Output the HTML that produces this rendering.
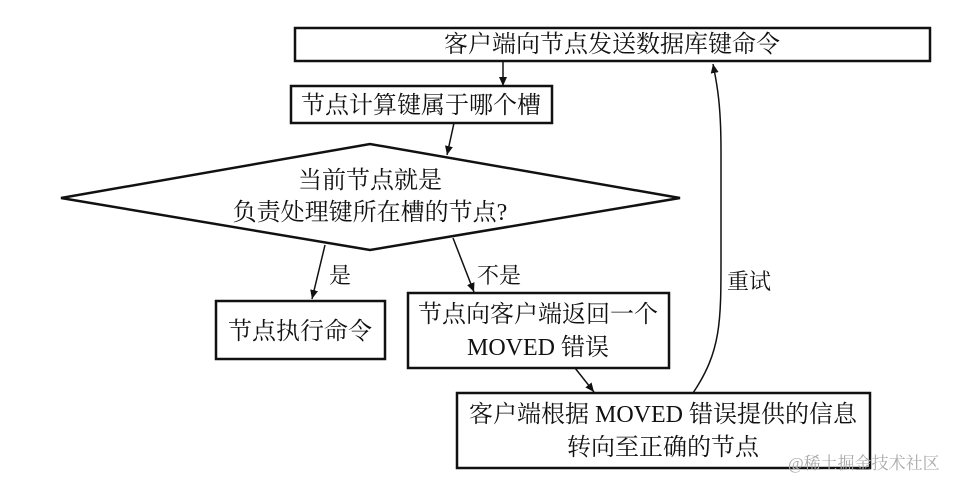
<!DOCTYPE html>
<html><head><meta charset="utf-8"><style>
html,body{margin:0;padding:0;background:#fff;}
svg{display:block;}
text{font-family:"Liberation Serif","Noto Serif CJK SC",serif;fill:#111;}
</style></head><body>
<svg width="964" height="487" viewBox="0 0 964 487" xmlns="http://www.w3.org/2000/svg">
<defs>
<marker id="a" markerWidth="10" markerHeight="10" refX="9" refY="5" orient="auto" markerUnits="userSpaceOnUse">
<path d="M0,1 L9,5 L0,9 Z" fill="#111"/>
</marker>
</defs>
<g stroke="#111" stroke-width="2.5" fill="none">
<rect x="295" y="28" width="635" height="33"/>
<rect x="291" y="86" width="261" height="37"/>
<polygon points="61,198 370,144 680,198 370,250"/>
<rect x="216" y="301" width="169" height="58"/>
<rect x="408" y="293" width="261" height="75"/>
<rect x="457" y="393" width="413" height="75"/>
</g>
<g stroke="#111" stroke-width="1.5" fill="none" marker-end="url(#a)">
<line x1="503" y1="61" x2="503" y2="86"/>
<line x1="454" y1="123" x2="447" y2="155"/>
<line x1="325" y1="245" x2="312" y2="299"/>
<line x1="453" y1="238" x2="474" y2="292"/>
<line x1="575" y1="368" x2="594" y2="392"/>
<path d="M693,393 C722,350 721,320 721,250 L721,150 C721,100 716,80 713,64"/>
</g>
<g font-size="24" text-anchor="middle">
<text x="612" y="52">客户端向节点发送数据库键命令</text>
<text x="421" y="113">节点计算键属于哪个槽</text>
<text x="370" y="188">当前节点就是</text>
<text x="370" y="220">负责处理键所在槽的节点?</text>
<text x="300" y="339">节点执行命令</text>
<text x="538" y="322">节点向客户端返回一个</text>
<text x="538" y="355">MOVED 错误</text>
<text x="663" y="422">客户端根据 MOVED 错误提供的信息</text>
<text x="663" y="455">转向至正确的节点</text>
</g>
<g font-size="22">
<text x="329" y="283">是</text>
<text x="477" y="283">不是</text>
<text x="727" y="289">重试</text>
</g>
<text x="788" y="469" font-size="17" style="fill:#aaa">@稀土掘金技术社区</text>
</svg>
</body></html>
